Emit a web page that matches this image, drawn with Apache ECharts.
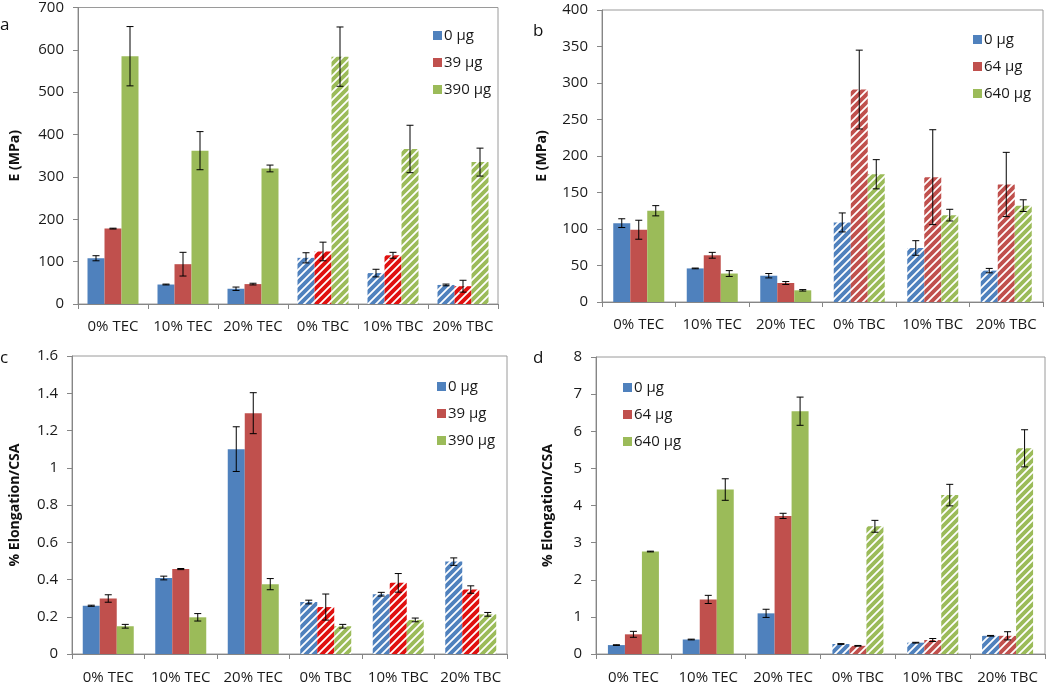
<!DOCTYPE html>
<html>
<head>
<meta charset="utf-8">
<title>E and elongation</title>
<script src="https://cdn.jsdelivr.net/npm/echarts@6/dist/echarts.min.js"></script>
<style>
  html, body { margin: 0; padding: 0; background: #fff; }
  #wrap { position: relative; width: 1050px; height: 685px; }
  .panel { position: absolute; }
</style>
</head>
<body>
<div id="wrap">
  <div id="pa" class="panel" style="left:0;top:0;width:525px;height:340px;"></div>
  <div id="pb" class="panel" style="left:525px;top:0;width:525px;height:340px;"></div>
  <div id="pc" class="panel" style="left:0;top:340px;width:525px;height:345px;"></div>
  <div id="pd" class="panel" style="left:525px;top:340px;width:525px;height:345px;"></div>
</div>
<script>
// categories
var categories = ['0% TEC', '10% TEC', '20% TEC', '0% TBC', '10% TBC', '20% TBC'];

// panel a : E (MPa)
var aNames = ['0 µg', '39 µg', '390 µg'];
var aVal0 = [108, 46, 36, 109, 73, 45];
var aErr0 = [6, 1, 4, 12, 9, 2];
var aVal39 = [178, 94, 47, 124, 115, 42];
var aErr39 = [1, 28, 2, 22, 7, 14];
var aVal390 = [585, 362, 320, 584, 366, 335];
var aErr390 = [70, 45, 8, 70, 56, 33];

// panel b : E (MPa)
var bNames = ['0 µg', '64 µg', '640 µg'];
var bVal0 = [108, 46, 36, 109, 74, 43];
var bErr0 = [6, 0.5, 3, 13, 10, 3];
var bVal64 = [99, 64, 26, 291, 171, 161];
var bErr64 = [13, 4, 2, 54, 65, 44];
var bVal640 = [125, 39, 16, 175, 119, 132];
var bErr640 = [7, 4, 1, 20, 8, 8];

// panel c : % Elongation/CSA
var cNames = ['0 µg', '39 µg', '390 µg'];
var cVal0 = [0.259, 0.408, 1.10, 0.279, 0.321, 0.496];
var cErr0 = [0.003, 0.01, 0.12, 0.01, 0.01, 0.02];
var cVal39 = [0.298, 0.456, 1.293, 0.252, 0.382, 0.346];
var cErr39 = [0.02, 0.003, 0.11, 0.07, 0.05, 0.02];
var cVal390 = [0.149, 0.197, 0.375, 0.149, 0.183, 0.213];
var cErr390 = [0.01, 0.02, 0.03, 0.01, 0.01, 0.01];

// panel d : % Elongation/CSA
var dNames = ['0 µg', '64 µg', '640 µg'];
var dVal0 = [0.24, 0.39, 1.095, 0.27, 0.305, 0.49];
var dErr0 = [0.01, 0.01, 0.11, 0.01, 0.01, 0.01];
var dVal64 = [0.53, 1.47, 3.72, 0.22, 0.377, 0.49];
var dErr64 = [0.08, 0.11, 0.07, 0.01, 0.04, 0.11];
var dVal640 = [2.76, 4.43, 6.54, 3.44, 4.28, 5.54];
var dErr640 = [0.01, 0.29, 0.38, 0.16, 0.29, 0.5];

var BLUE = '#4F81BD', RED = '#C0504D', GREEN = '#9BBB59', RED_HATCH = '#E0100F';
var FONT = '"Open Sans", sans-serif';
var BAR_W = 17;

// diagonal white stripes over a colour
function stripes(color) {
    var c = document.createElement('canvas');
    c.width = 8; c.height = 8;
    var g = c.getContext('2d');
    g.fillStyle = color;
    g.fillRect(0, 0, 8, 8);
    g.strokeStyle = '#fff';
    g.lineWidth = 1.8;
    g.beginPath();
    g.moveTo(-2, 10); g.lineTo(10, -2);
    g.moveTo(-2, 2); g.lineTo(2, -2);
    g.moveTo(6, 10); g.lineTo(10, 6);
    g.stroke();
    return c;
}

function barSeries(name, vals, color, hatchColor) {
    var pat = { image: stripes(hatchColor || color), repeat: 'repeat' };
    return {
        name: name,
        type: 'bar',
        barWidth: BAR_W,
        barGap: '0%',
        itemStyle: { color: color },
        data: vals.map(function (v, i) {
            return i >= 3 ? { value: v, itemStyle: { color: pat } } : v;
        })
    };
}

function errSeries(vals, errs, offset) {
    return {
        type: 'custom',
        silent: true,
        z: 10,
        data: vals.map(function (v, i) { return [i, v, errs[i]]; }),
        renderItem: function (params, api) {
            var i = api.value(0), v = api.value(1), e = api.value(2);
            var hi = api.coord([i, v + e]);
            var lo = api.coord([i, v - e]);
            var x = hi[0] + offset;
            var st = { stroke: '#000', lineWidth: 1 };
            return {
                type: 'group',
                children: [
                    { type: 'line', shape: { x1: x, y1: hi[1], x2: x, y2: lo[1] }, style: st },
                    { type: 'line', shape: { x1: x - 3.5, y1: hi[1], x2: x + 3.5, y2: hi[1] }, style: st },
                    { type: 'line', shape: { x1: x - 3.5, y1: lo[1], x2: x + 3.5, y2: lo[1] }, style: st }
                ]
            };
        }
    };
}

function makePanel(domId, p) {
    var chart = echarts.init(document.getElementById(domId), null, { renderer: 'canvas' });
    var cols = [BLUE, RED, GREEN];
    var hatch = [BLUE, p.redHatch, GREEN];
    var series = [];
    for (var k = 0; k < 3; k++) {
        series.push(barSeries(p.names[k], p.vals[k], cols[k], hatch[k]));
    }
    for (var k = 0; k < 3; k++) {
        series.push(errSeries(p.vals[k], p.errs[k], (k - 1) * BAR_W));
    }
    chart.setOption({
        animation: false,
        textStyle: { fontFamily: FONT },
        graphic: [{
            type: 'text', left: p.letter[1], top: p.letter[2],
            style: { text: p.letter[0], font: '17px ' + FONT, fill: '#111' }
        }],
        legend: {
            data: p.names,
            orient: 'vertical',
            left: p.legend[0], top: p.legend[1],
            icon: 'rect',
            itemWidth: 9, itemHeight: 9, itemGap: 12,
            selectedMode: false,
            textStyle: { fontFamily: FONT, fontSize: 15, color: '#1a1a1a', padding: [0, 0, 0, -3] }
        },
        grid: {
            left: p.grid[0], top: p.grid[1], right: p.grid[2], bottom: p.grid[3],
            show: true, borderColor: '#9a9a9a', borderWidth: 1, containLabel: false
        },
        xAxis: {
            type: 'category',
            data: categories,
            axisLine: { lineStyle: { color: '#868686' } },
            axisTick: { show: true, length: 5, lineStyle: { color: '#868686' } },
            axisLabel: { interval: 0, fontFamily: FONT, fontSize: 15, color: '#1a1a1a', margin: p.xMargin }
        },
        yAxis: {
            type: 'value',
            min: 0, max: p.ymax, interval: p.step,
            name: p.yName,
            nameLocation: 'middle',
            nameGap: p.nameGap,
            nameTextStyle: { fontFamily: FONT, fontSize: 14, fontWeight: 'bold', color: '#111' },
            axisLine: { show: true, lineStyle: { color: '#868686' } },
            axisTick: { show: true, length: 5, lineStyle: { color: '#868686' } },
            splitLine: { show: false },
            axisLabel: { fontFamily: FONT, fontSize: 15, color: '#1a1a1a', margin: 14 }
        },
        series: series
    });
    return chart;
}

makePanel('pa', {
    names: aNames,
    vals: [aVal0, aVal39, aVal390],
    errs: [aErr0, aErr39, aErr390],
    redHatch: RED_HATCH,
    ymax: 700, step: 100,
    yName: 'E (MPa)', nameGap: 56,
    grid: [67, 5, 27, 36], xMargin: 15,
    legend: [428, 23],
    letter: ['a', 0, 17]
});
makePanel('pb', {
    names: bNames,
    vals: [bVal0, bVal64, bVal640],
    errs: [bErr0, bErr64, bErr640],
    redHatch: RED,
    ymax: 400, step: 50,
    yName: 'E (MPa)', nameGap: 53,
    grid: [77, 10, 7, 38], xMargin: 15,
    legend: [443, 27],
    letter: ['b', 8, 23]
});
makePanel('pc', {
    names: cNames,
    vals: [cVal0, cVal39, cVal390],
    errs: [cErr0, cErr39, cErr390],
    redHatch: RED_HATCH,
    ymax: 1.6, step: 0.2,
    yName: '% Elongation/CSA', nameGap: 50,
    grid: [63, 16, 18, 29], xMargin: 16,
    legend: [432, 34],
    letter: ['c', 0, 10]
});
makePanel('pd', {
    names: dNames,
    vals: [dVal0, dVal64, dVal640],
    errs: [dErr0, dErr64, dErr640],
    redHatch: RED,
    ymax: 8, step: 1,
    yName: '% Elongation/CSA', nameGap: 41,
    grid: [71, 17, 5, 31], xMargin: 16,
    legend: [93, 35],
    letter: ['d', 8, 10]
});
</script>
</body>
</html>
